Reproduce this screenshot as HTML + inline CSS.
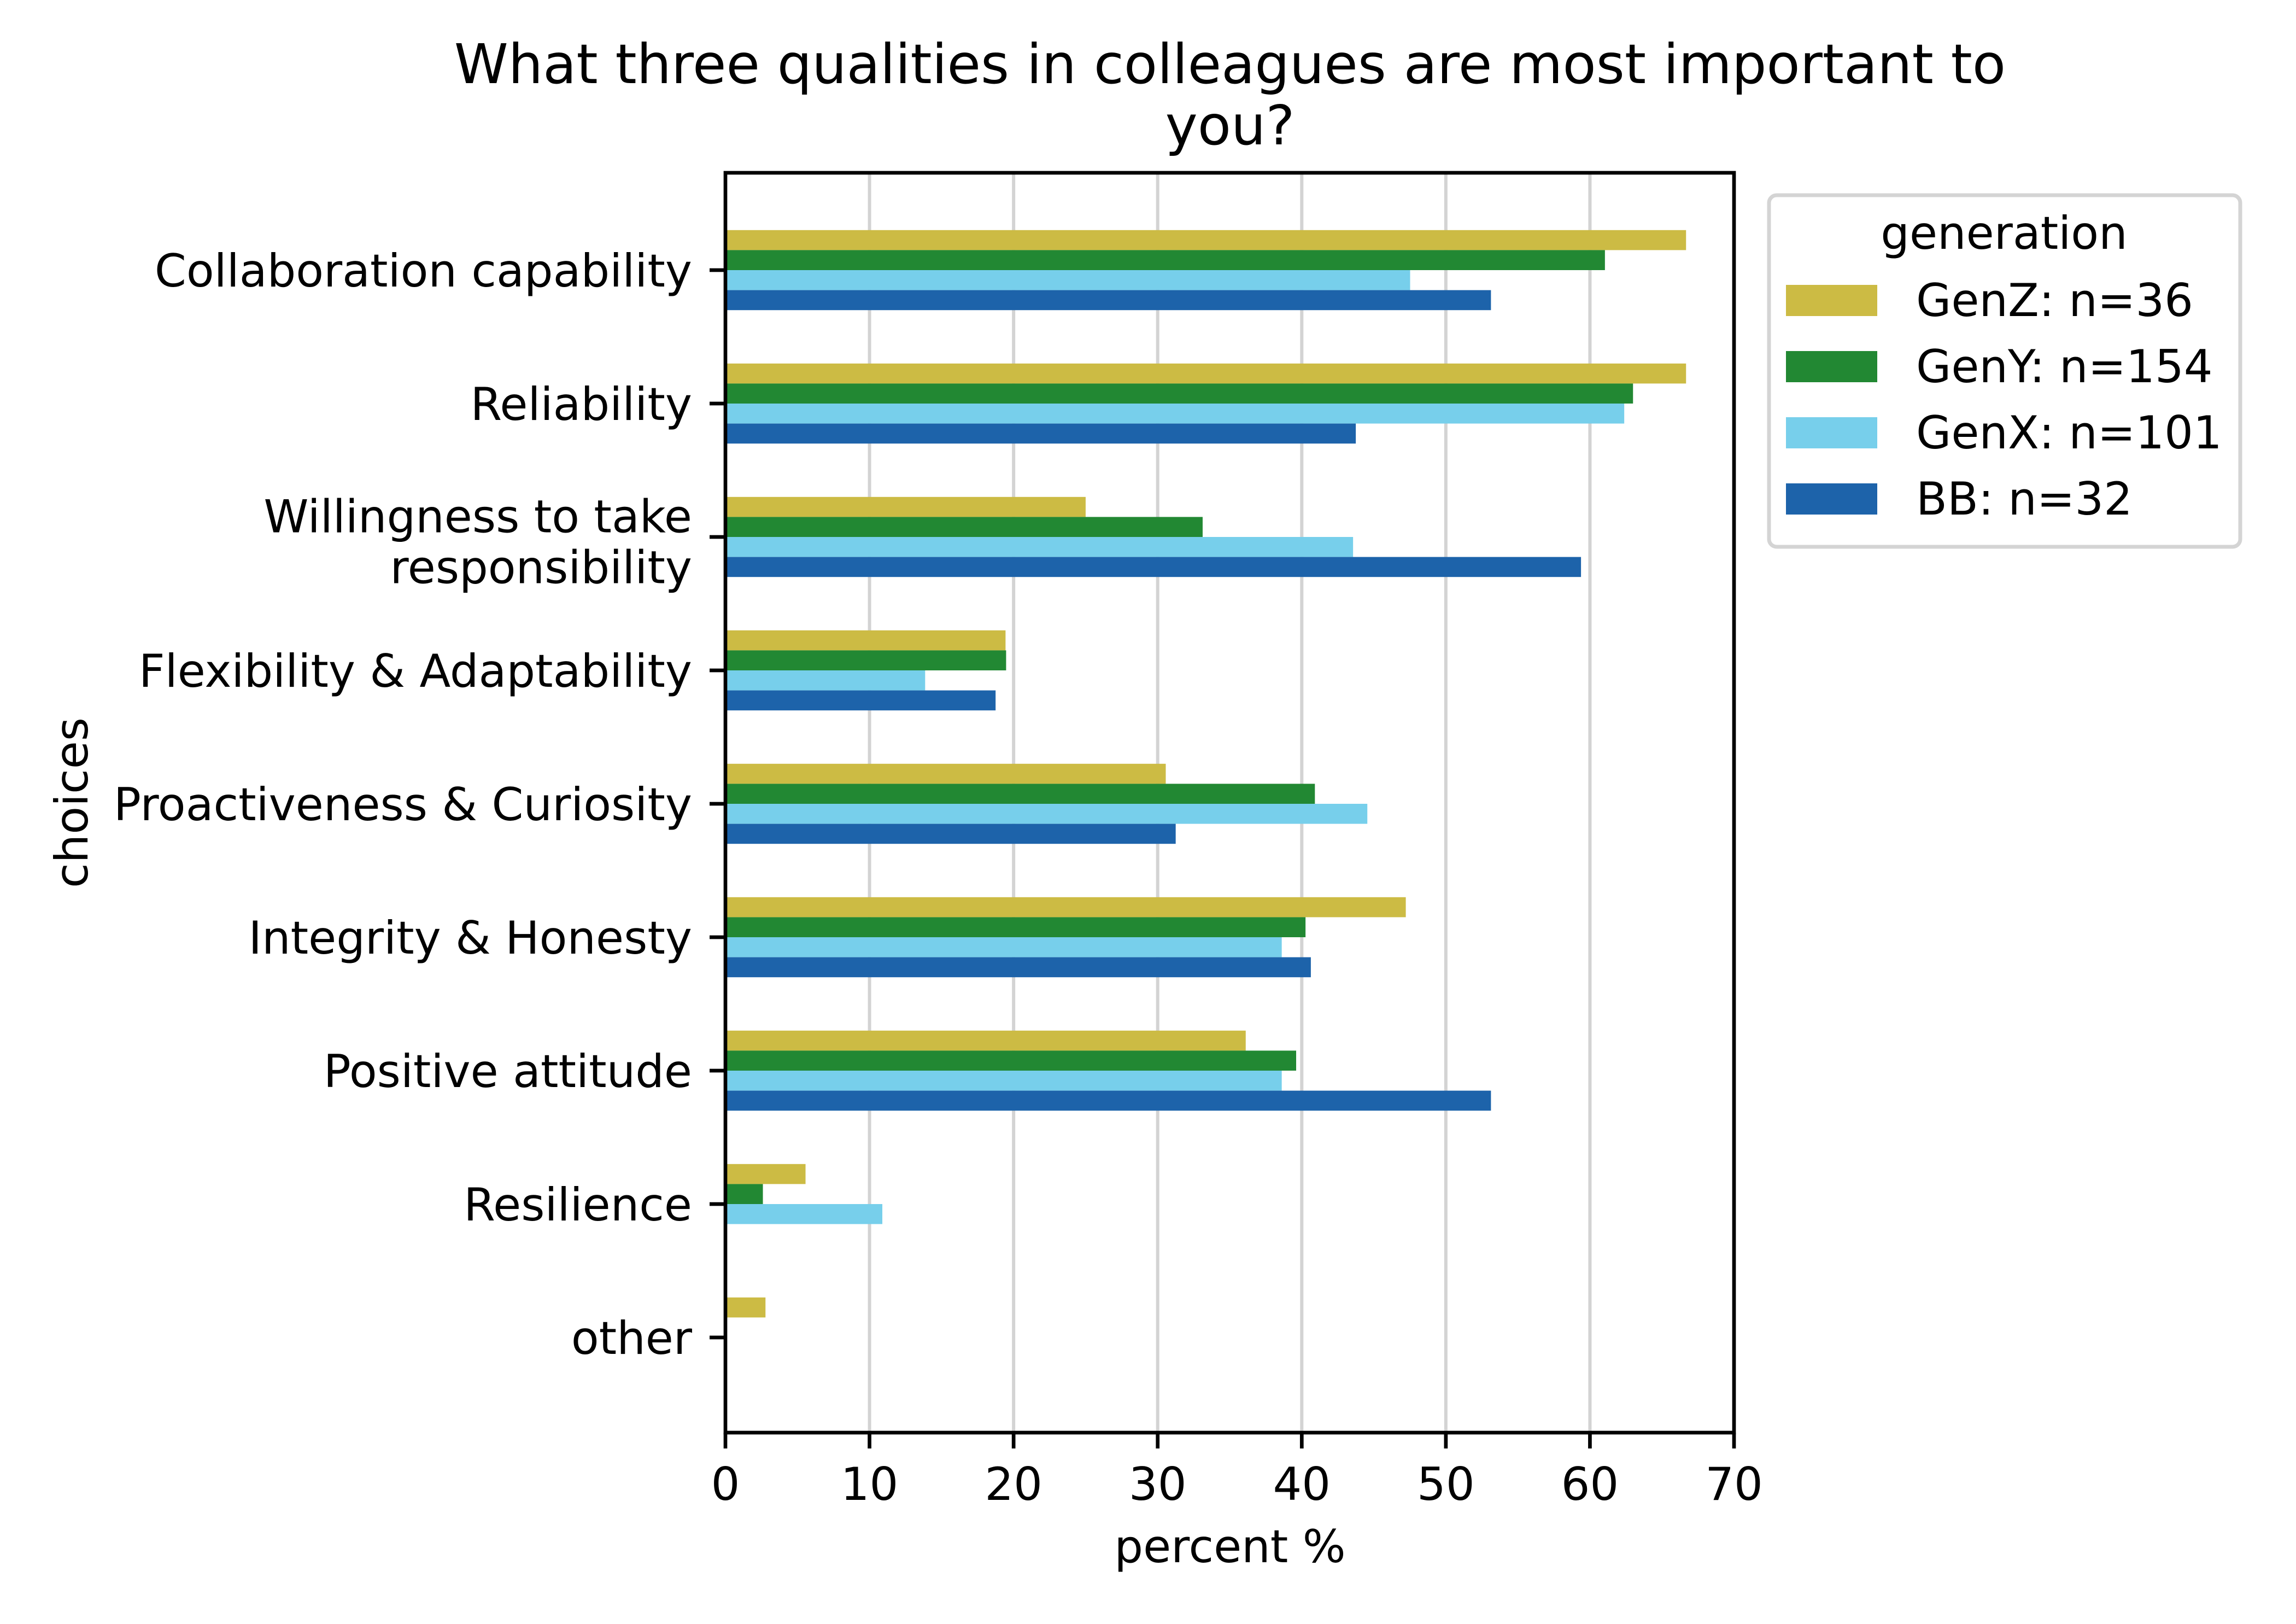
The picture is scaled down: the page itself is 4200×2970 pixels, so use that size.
<!DOCTYPE html>
<html><head><meta charset="utf-8"><style>
html,body{margin:0;padding:0;background:#fff;}
svg{display:block;font-family:"DejaVu Sans","Liberation Sans",sans-serif;}
</style></head><body>
<svg id="chart" width="4200" height="2970" viewBox="0 0 4200 2970" xmlns="http://www.w3.org/2000/svg">
<rect width="4200" height="2970" fill="#fff"/>
<g id="grid"></g>
<g id="bars"></g>
<g id="axes"></g>
<text x="2250" y="152" font-size="100" text-anchor="middle">What three qualities in colleagues are most important to</text>
<text x="2250" y="264" font-size="100" text-anchor="middle">you?</text>
<text x="2250" y="2857" font-size="83" text-anchor="middle">percent %</text>
<text x="160" y="1468" font-size="83" text-anchor="middle" transform="rotate(-90 160 1468)">choices</text>
<g id="legend">
<rect x="3236" y="357" width="862" height="643" rx="14" fill="#fff" fill-opacity="0.8" stroke="#d4d4d4" stroke-width="7"/>
<text x="3666" y="455" font-size="83" text-anchor="middle">generation</text>
</g>
</svg>
<script>
const categories = ["Collaboration capability","Reliability","Willingness to take|responsibility","Flexibility & Adaptability","Proactiveness & Curiosity","Integrity & Honesty","Positive attitude","Resilience","other"];
const seriesNames = ["GenZ: n=36","GenY: n=154","GenX: n=101","BB: n=32"];
const seriesColors = ["#ccbb44","#228833","#77cfeb","#1d63aa"];
const genZ = [66.67,66.67,25.0,19.44,30.56,47.22,36.11,5.56,2.78];
const genY = [61.04,62.99,33.12,19.48,40.91,40.26,39.61,2.60,0];
const genX = [47.52,62.38,43.56,13.86,44.55,38.61,38.61,10.89,0];
const bb = [53.13,43.75,59.38,18.75,31.25,40.63,53.13,0,0];
const xTicks = [0,10,20,30,40,50,60,70];

const NS="http://www.w3.org/2000/svg";
const L=1327,R=3172,T=316,B=2620;
const xMin=0,xMax=70;
const y0=494,yStep=244;
const xs=v=>L+(v-xMin)/(xMax-xMin)*(R-L);
const ys=i=>y0+i*yStep;
function mk(tag,attrs,parent){const e=document.createElementNS(NS,tag);for(const k in attrs)e.setAttribute(k,attrs[k]);parent.appendChild(e);return e;}
const grid=document.getElementById('grid'),bars=document.getElementById('bars'),axes=document.getElementById('axes'),legend=document.getElementById('legend');

xTicks.forEach(t=>{
  const g=mk('line',{x1:xs(t),x2:xs(t),y1:T,y2:B,stroke:'#d3d3d3','stroke-width':6},grid);
  
  
  const tk=mk('line',{x1:xs(t),x2:xs(t),y1:B,y2:B+29,stroke:'#000','stroke-width':6.7},axes);
  
  
  const lb=mk('text',{x:xs(t),y:B+123,'font-size':83,'text-anchor':'middle'},axes);
  lb.textContent=t;
  
  
});

const series=[genZ,genY,genX,bb];
const bh=0.15*yStep;
series.forEach((vals,s)=>{
  vals.forEach((v,i)=>{
    const top=ys(i)+(-0.3+s*0.15)*yStep;
    const r=mk('rect',{x:xs(0),y:top,width:Math.max(0,xs(v)-xs(0)),height:bh,fill:seriesColors[s]},bars);
    
    
  });
});

categories.forEach((c,i)=>{
  const y=ys(i);
  const tk=mk('line',{x1:L-29,x2:L,y1:y,y2:y,stroke:'#000','stroke-width':6.7},axes);
  
  
  const parts=c.split('|');
  parts.forEach((p,k)=>{
    const by=y+30+(parts.length>1?8:0)+(k-(parts.length-1)/2)*93;
    const t=mk('text',{x:1266,y:by,'font-size':83,'text-anchor':'end'},axes);
    t.textContent=p;
    
    
  });
});

const frame=mk('rect',{x:L,y:T,width:R-L,height:B-T,fill:'none',stroke:'#000','stroke-width':6.7},axes);



seriesNames.forEach((n,s)=>{
  const top=521+s*121;
  const p=mk('rect',{x:3267,y:top,width:167,height:57,fill:seriesColors[s]},legend);
  
  
  const t=mk('text',{x:3505,y:top+57,'font-size':83},legend);
  t.textContent=n;
  
  
});
</script>
</body></html>
